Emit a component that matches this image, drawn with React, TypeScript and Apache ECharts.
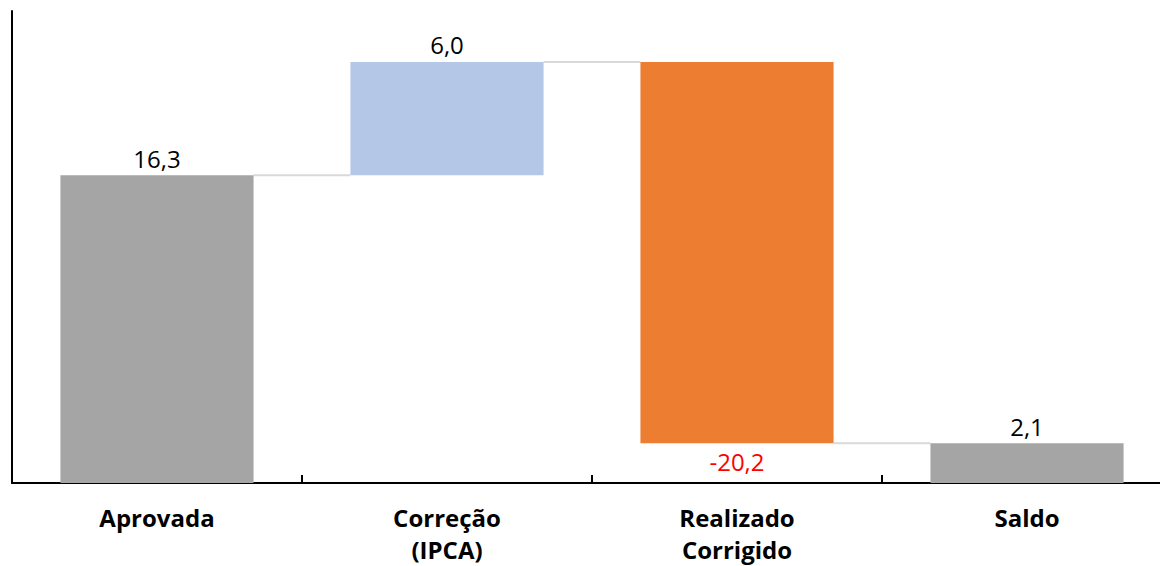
import React, { useEffect, useRef } from "react";
import * as echarts from "echarts";

const categories = ["Aprovada", "Correção\n(IPCA)", "Realizado\nCorrigido", "Saldo"];
const values = [16.3, 6.0, -20.2, 2.1];
const isTotal = [true, false, false, true];
const barColors = ["#A5A5A5", "#B4C7E7", "#ED7D31", "#A5A5A5"];
const labelColors = ["#000000", "#000000", "#FF0000", "#000000"];
const yMin = 0;
const yMax = 25;

function buildWaterfall() {
  const bases: number[] = [];
  const heights: number[] = [];
  const levels: number[] = [];
  let running = 0;
  values.forEach((v, i) => {
    if (isTotal[i]) {
      bases.push(0);
      heights.push(v);
      running = v;
    } else {
      const next = running + v;
      bases.push(Math.min(running, next));
      heights.push(Math.abs(v));
      running = next;
    }
    levels.push(running);
  });
  return { bases, heights, levels };
}

export default function App() {
  const ref = useRef<HTMLDivElement>(null);
  useEffect(() => {
    if (!ref.current) return;
    const chart = echarts.init(ref.current, undefined, { renderer: "svg" });
    const { bases, heights, levels } = buildWaterfall();
    const fmt = (v: number) => v.toFixed(1).replace(".", ",");
    const barGapPct = 0.334;
    const connectorData = levels.slice(0, -1).map((lv, i) => [i, lv]);

    chart.setOption({
      animation: false,
      grid: {
        left: 12,
        top: 11,
        right: -12,
        bottom: 83,
        containLabel: false,
        outerBoundsMode: "none",
      },
      xAxis: {
        type: "category",
        data: categories,
        axisLine: { show: true, lineStyle: { color: "#000", width: 2 } },
        axisTick: { show: true, inside: true, length: 8, interval: 0, lineStyle: { color: "#000", width: 2 } },
        axisLabel: {
          interval: 0,
          color: "#000",
          fontFamily: "Open Sans",
          fontWeight: "bold",
          fontSize: 24,
          lineHeight: 32,
          margin: 18,
        },
        splitLine: { show: false },
      },
      yAxis: {
        type: "value",
        min: yMin,
        max: yMax,
        axisLine: { show: true, lineStyle: { color: "#000", width: 2 } },
        axisTick: { show: false },
        axisLabel: { show: false },
        splitLine: { show: false },
      },
      series: [
        {
          type: "bar",
          stack: "wf",
          data: bases,
          itemStyle: { color: "transparent" },
          barCategoryGap: barGapPct * 100 + "%",
          silent: true,
        },
        {
          type: "bar",
          stack: "wf",
          data: heights.map((h, i) => ({
            value: h,
            itemStyle: { color: barColors[i] },
            label: {
              show: true,
              position: values[i] < 0 ? "bottom" : "top",
              distance: values[i] < 0 ? 6 : 5,
              color: labelColors[i],
              fontFamily: "Open Sans",
              fontSize: 24,
              formatter: () => fmt(values[i]),
            },
          })),
          barCategoryGap: barGapPct * 100 + "%",
        },
        {
          type: "custom",
          data: connectorData,
          z: 1,
          renderItem: (params: any, api: any) => {
            const idx = api.value(0);
            const lv = api.value(1);
            const p1 = api.coord([idx, lv]);
            const p2 = api.coord([idx + 1, lv]);
            const bw = api.size([1, 0])[0] * (1 - barGapPct);
            return {
              type: "line",
              shape: { x1: p1[0] + bw / 2, y1: p1[1], x2: p2[0] - bw / 2, y2: p2[1] },
              style: { stroke: "#D9D9D9", lineWidth: 2 },
            };
          },
        },
      ],
    });
    return () => chart.dispose();
  }, []);
  return (
    <div
      ref={ref}
      style={{ position: "absolute", left: 0, top: 0, width: 1160, height: 566, background: "#fff" }}
    />
  );
}
